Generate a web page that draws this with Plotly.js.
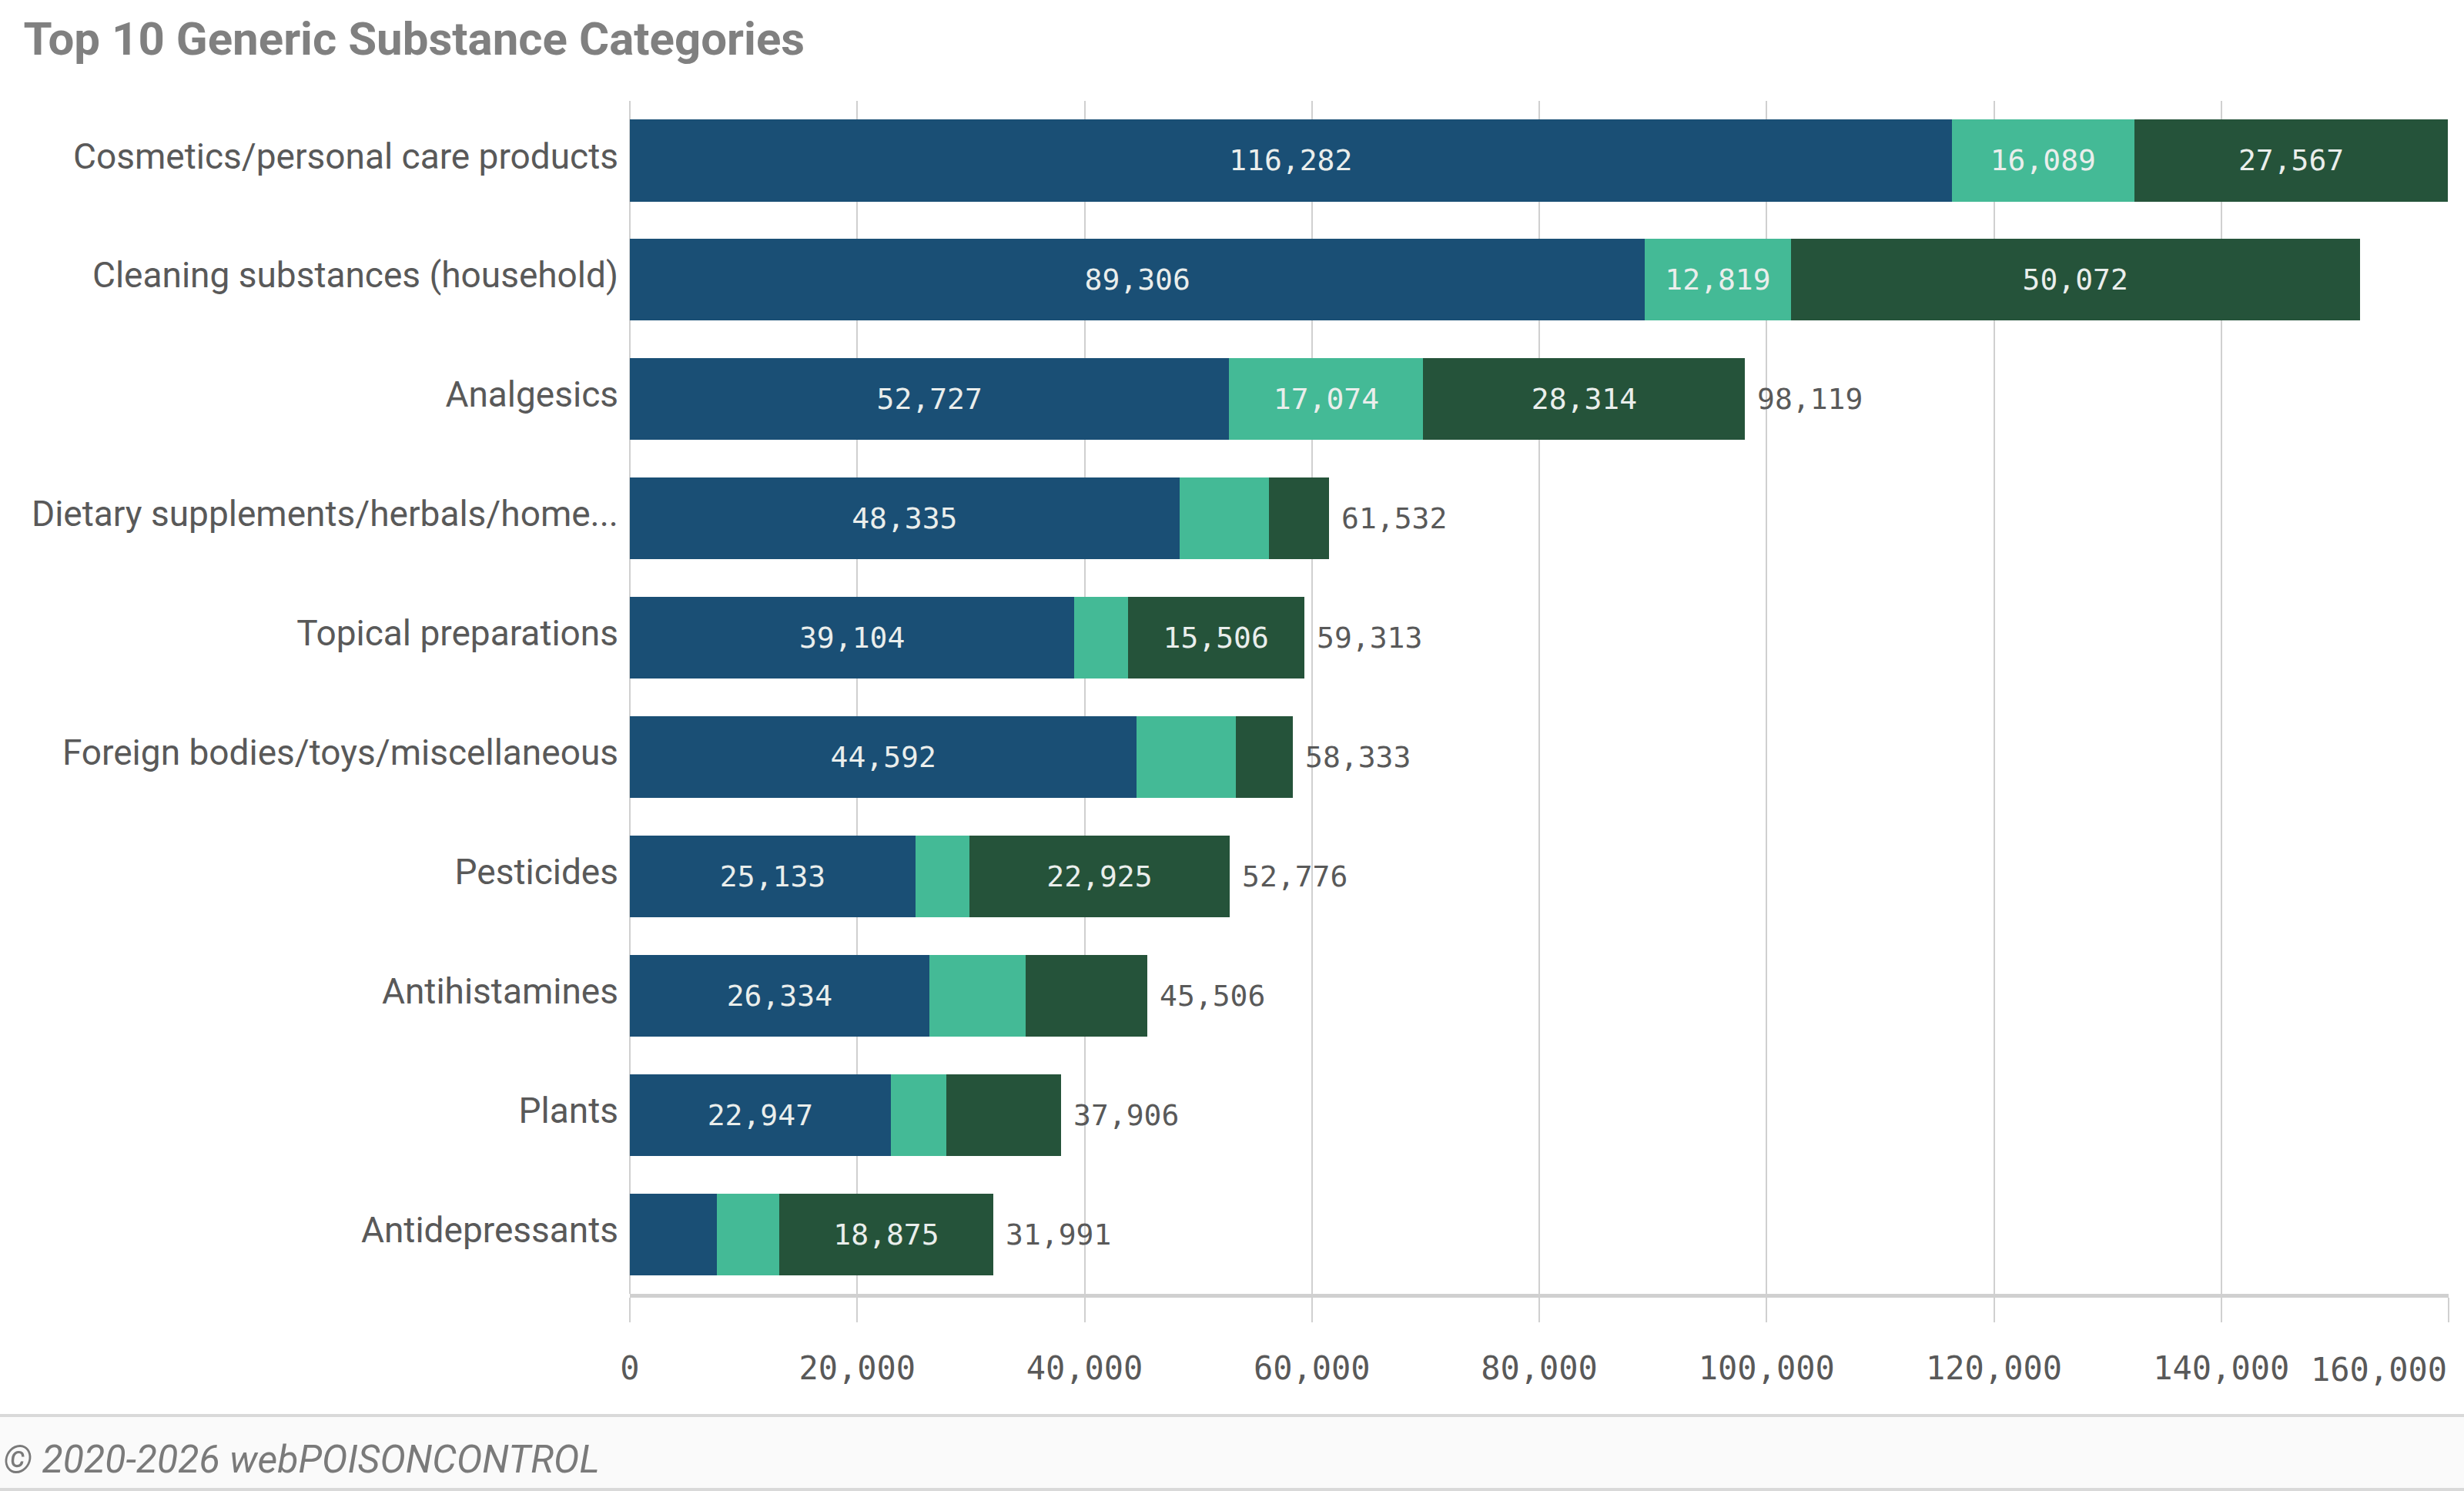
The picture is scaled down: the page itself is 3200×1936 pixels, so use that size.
<!DOCTYPE html>
<html>
<head>
<meta charset="utf-8">
<script src="https://cdn.plot.ly/plotly-3.0.1.min.js"></script>
<style>
  html, body { margin: 0; padding: 0; background: #ffffff; }
  #chart { width: 3200px; height: 1936px; }
</style>
</head>
<body>
<div id="chart"></div>
<script>
const categories = [
  "Cosmetics/personal care products",
  "Cleaning substances (household)",
  "Analgesics",
  "Dietary supplements/herbals/home...",
  "Topical preparations",
  "Foreign bodies/toys/miscellaneous",
  "Pesticides",
  "Antihistamines",
  "Plants",
  "Antidepressants"
];
const seriesA = [116282, 89306, 52727, 48335, 39104, 44592, 25133, 26334, 22947, 7650];
const seriesB = [16089, 12819, 17074, 7870, 4703, 8700, 4718, 8460, 4890, 5466];
const seriesC = [27567, 50072, 28314, 5327, 15506, 5041, 22925, 10712, 10069, 18875];
const totals = [null, null, 98119, 61532, 59313, 58333, 52776, 45506, 37906, 31991];
const xTicks = [0, 20000, 40000, 60000, 80000, 100000, 120000, 140000, 160000];
const xTickLabels = ["0", "20,000", "40,000", "60,000", "80,000", "100,000", "120,000", "140,000", "160,000"];

const colors = ["#1a4f75", "#44ba96", "#25533a"];
const monoFont = "DejaVu Sans Mono";
const sansFont = "Roboto";

const plotLeft = 818, plotRight = 3180, plotTop = 131, plotBottom = 1680;
const plotW = plotRight - plotLeft, plotH = plotBottom - plotTop;
const xMax = 160000;
const labelSize = 38;

function fmt(v) { return v.toLocaleString("en-US"); }

// a segment's label is shown only when it fits inside the segment
function fitLabels(vals) {
  return vals.map(v => {
    const s = fmt(v);
    const segPx = v * plotW / xMax;
    const txtPx = s.length * 0.61 * labelSize + 30;
    return segPx >= txtPx ? s : "";
  });
}

function barTrace(vals, color) {
  return {
    type: "bar",
    orientation: "h",
    y: categories,
    x: vals,
    text: fitLabels(vals),
    marker: { color: color, line: { width: 0 } },
    textposition: "inside",
    insidetextanchor: "middle",
    textangle: 0,
    constraintext: "none",
    textfont: { family: monoFont, size: labelSize, color: "#eaeeec" },
    hoverinfo: "none",
    showlegend: false
  };
}

const data = [barTrace(seriesA, colors[0]), barTrace(seriesB, colors[1]), barTrace(seriesC, colors[2])];

const annotations = [];
totals.forEach((t, i) => {
  if (t === null) return;
  annotations.push({
    x: t, y: categories[i], xref: "x", yref: "y",
    text: fmt(t),
    showarrow: false, xanchor: "left", yanchor: "middle", xshift: 14,
    font: { family: monoFont, size: labelSize, color: "#595959" }
  });
});

// last x tick label sits flush with the right edge of the plot
annotations.push({
  x: xTicks[xTicks.length - 1], xref: "x",
  y: (plotBottom - 1778) / plotH, yref: "paper",
  xanchor: "right", yanchor: "middle",
  text: xTickLabels[xTickLabels.length - 1],
  showarrow: false,
  font: { family: monoFont, size: 42, color: "#595959" }
});

// footer text
annotations.push({
  xref: "paper", yref: "paper",
  x: (2 - plotLeft) / plotW, y: (plotBottom - 1895) / plotH,
  xanchor: "left", yanchor: "middle",
  text: "<i>© 2020-2026 webPOISONCONTROL</i>",
  showarrow: false,
  font: { family: sansFont, size: 50, color: "#7a7a7a" }
});

const fx0 = -plotLeft / plotW, fx1 = (3200 - plotLeft) / plotW;
const shapes = [
  { type: "rect", xref: "paper", yref: "paper",
    x0: fx0, x1: fx1,
    y0: (plotBottom - 1934) / plotH, y1: (plotBottom - 1838) / plotH,
    fillcolor: "#fafafa", line: { width: 0 }, layer: "below" },
  { type: "line", xref: "paper", yref: "paper",
    x0: fx0, x1: fx1,
    y0: (plotBottom - 1838) / plotH, y1: (plotBottom - 1838) / plotH,
    line: { color: "#d9d9d9", width: 4 } },
  { type: "line", xref: "paper", yref: "paper",
    x0: fx0, x1: fx1,
    y0: (plotBottom - 1934) / plotH, y1: (plotBottom - 1934) / plotH,
    line: { color: "#d9d9d9", width: 4 } }
];

const layout = {
  width: 3200,
  height: 1936,
  margin: { l: plotLeft, r: 3200 - plotRight, t: plotTop, b: 1936 - plotBottom, pad: 0 },
  paper_bgcolor: "#ffffff",
  plot_bgcolor: "#ffffff",
  barmode: "stack",
  bargap: 0.315,
  title: {
    text: "Top 10 Generic Substance Categories",
    xref: "container", yref: "container",
    x: 0.0095, xanchor: "left",
    y: 1 - 50 / 1936, yanchor: "middle",
    font: { family: sansFont, size: 60, weight: "bold", color: "#808080" }
  },
  xaxis: {
    range: [0, xMax],
    tickvals: xTicks,
    ticktext: xTickLabels.map((t, i) => i === xTickLabels.length - 1 ? "" : t),
    showgrid: true, gridcolor: "#d0d0d0", gridwidth: 2,
    zeroline: true, zerolinecolor: "#d0d0d0", zerolinewidth: 2,
    showline: true, linecolor: "#d0d0d0", linewidth: 5,
    ticks: "outside", ticklen: 32, tickcolor: "#d0d0d0", tickwidth: 2,
    ticklabelstandoff: 24,
    tickfont: { family: monoFont, size: 42, color: "#595959" },
    fixedrange: true
  },
  yaxis: {
    type: "category",
    autorange: "reversed",
    showgrid: false, zeroline: false, showline: false,
    ticks: "",
    ticklabelstandoff: 14,
    ticklabelshift: 6,
    tickfont: { family: sansFont, size: 46, color: "#595959" },
    fixedrange: true
  },
  annotations: annotations,
  shapes: shapes,
  showlegend: false
};

Plotly.newPlot("chart", data, layout, { displayModeBar: false, staticPlot: true });
</script>
</body>
</html>
